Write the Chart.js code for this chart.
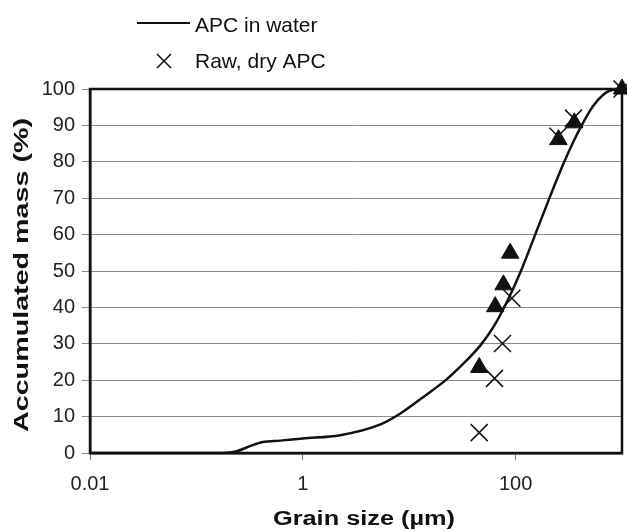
<!DOCTYPE html>
<html lang="en">
<head>
    <meta charset="UTF-8">
    <title>Grain size distribution</title>
    <script src="https://cdn.jsdelivr.net/npm/chart.js"></script>
    <style>
        html, body { margin: 0; padding: 0; background: #fff; }
        #wrap { width: 627px; height: 531px; }
    </style>
</head>
<body>
    <div id="wrap"><canvas id="grainChart" width="627" height="531"></canvas></div>

    <script>
        // APC in water (continuous curve)
        const curveX = [0.01, 0.1, 0.18, 0.24, 0.32, 0.42, 0.61, 1, 2.25, 5.3, 8.2, 13.6, 22.6, 34.8, 46.5, 61.5, 82.8, 110.4, 152.8, 211, 282, 377, 540, 774, 1000];
        const curveY = [0, 0, 0, 0.5, 1.9, 3.0, 3.4, 4.0, 4.9, 7.8, 10.8, 15.4, 20.3, 25.5, 29.5, 34.5, 41.5, 49.5, 60, 70.5, 79.5, 87.5, 95.5, 99.6, 100];

        // Raw, dry APC (crosses)
        const dryX = [45.5, 63.4, 75.3, 92.2, 250, 350, 1000];
        const dryY = [5.6, 20.5, 30.1, 42.5, 87, 92, 100];

        // triangles (no legend entry)
        const triX = [45.5, 64.3, 76.9, 88.9, 253, 356, 1000];
        const triY = [23.5, 40.2, 46.2, 54.9, 86.1, 90.7, 100];

        const xTickValues = [0.01, 1, 100];
        const xTickLabels = ['0.01', '1', '100'];
        const xTitle = 'Grain size (µm)';
        const yTitle = 'Accumulated mass (%)';
        const legendLabels = ['APC in water', 'Raw, dry APC'];

        const FONT = '"Liberation Sans", Arial, Helvetica, sans-serif';

        const toPoints = (xs, ys) => xs.map((x, i) => ({ x: x, y: ys[i] }));

        // frame round the plot area
        const framePlugin = {
            id: 'frame',
            beforeDatasetsDraw(chart) {
                const a = chart.chartArea;
                const ctx = chart.ctx;
                ctx.save();
                ctx.strokeStyle = '#111';
                ctx.lineWidth = 2.5;
                ctx.strokeRect(a.left, a.top, a.right - a.left, a.bottom - a.top);
                ctx.restore();
            }
        };

        // legend and stretched axis titles
        const decorPlugin = {
            id: 'decor',
            afterDraw(chart) {
                const ctx = chart.ctx;
                ctx.save();
                ctx.fillStyle = '#111';
                ctx.strokeStyle = '#111';

                // legend
                ctx.lineWidth = 2;
                ctx.beginPath();
                ctx.moveTo(137, 23);
                ctx.lineTo(190, 23);
                ctx.stroke();
                ctx.lineWidth = 1.5;
                ctx.beginPath();
                ctx.moveTo(157, 54); ctx.lineTo(171, 68);
                ctx.moveTo(171, 54); ctx.lineTo(157, 68);
                ctx.stroke();
                ctx.font = '21px ' + FONT;
                ctx.textBaseline = 'alphabetic';
                ctx.textAlign = 'left';
                ctx.fillText(legendLabels[0], 195, 32);
                ctx.fillText(legendLabels[1], 195, 68);

                // axis titles
                ctx.font = 'bold 20px ' + FONT;
                ctx.textAlign = 'center';
                ctx.textBaseline = 'middle';
                let w = ctx.measureText(xTitle).width;
                ctx.save();
                ctx.translate(364, 519);
                ctx.scale(182 / w, 1);
                ctx.fillText(xTitle, 0, 0);
                ctx.restore();

                w = ctx.measureText(yTitle).width;
                ctx.save();
                ctx.translate(22, 275);
                ctx.rotate(-Math.PI / 2);
                ctx.scale(314 / w, 1);
                ctx.fillText(yTitle, 0, 0);
                ctx.restore();

                ctx.restore();
            }
        };

        const ctx = document.getElementById('grainChart').getContext('2d');
        const grainChart = new Chart(ctx, {
            data: {
                datasets: [
                    {
                        type: 'scatter',
                        label: 'triangles',
                        data: toPoints(triX, triY),
                        pointStyle: 'triangle',
                        pointRadius: 10,
                        backgroundColor: '#111',
                        borderColor: '#111',
                        borderWidth: 1,
                        clip: false
                    },
                    {
                        type: 'scatter',
                        label: legendLabels[1],
                        data: toPoints(dryX, dryY),
                        pointStyle: 'crossRot',
                        pointRadius: 12,
                        borderColor: '#111',
                        borderWidth: 1.5,
                        clip: false
                    },
                    {
                        type: 'line',
                        label: legendLabels[0],
                        data: toPoints(curveX, curveY),
                        borderColor: '#111',
                        borderWidth: 2.5,
                        pointRadius: 0,
                        cubicInterpolationMode: 'monotone',
                        fill: false
                    }
                ]
            },
            options: {
                responsive: false,
                animation: false,
                layout: { autoPadding: false, padding: { top: 89, right: 5, left: 0, bottom: 0 } },
                plugins: {
                    legend: { display: false },
                    tooltip: { enabled: false }
                },
                scales: {
                    x: {
                        type: 'logarithmic',
                        position: 'bottom',
                        min: 0.01,
                        max: 1000,
                        afterBuildTicks: s => { s.ticks = xTickValues.map(v => ({ value: v })); },
                        afterFit: s => {
                            s.height = 78;
                            s.paddingLeft = 0;
                            s.paddingRight = 0;
                        },
                        ticks: {
                            autoSkip: false,
                            maxRotation: 0,
                            padding: 12,
                            color: '#222',
                            font: { family: FONT, size: 20 },
                            callback: v => {
                                const i = xTickValues.indexOf(v);
                                return i >= 0 ? xTickLabels[i] : '';
                            }
                        },
                        grid: { drawOnChartArea: false, drawTicks: true, tickLength: 7, color: '#777' },
                        border: { color: '#111', width: 2.5 }
                    },
                    y: {
                        min: 0,
                        max: 100,
                        afterFit: s => {
                            s.width = 90;
                            s.paddingTop = 0;
                            s.paddingBottom = 0;
                        },
                        ticks: {
                            stepSize: 10,
                            padding: 7,
                            color: '#222',
                            font: { family: FONT, size: 20 }
                        },
                        grid: { color: '#8a8a8a', lineWidth: 1, tickLength: 8 },
                        border: { color: '#111', width: 2.5 }
                    }
                }
            },
            plugins: [framePlugin, decorPlugin]
        });
    </script>
</body>
</html>
